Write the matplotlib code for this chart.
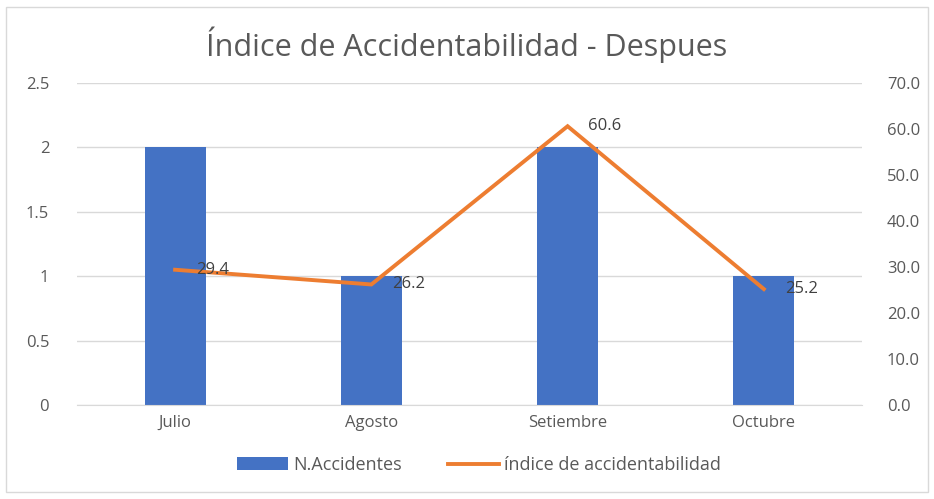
import matplotlib
matplotlib.use('Agg')
import matplotlib.pyplot as plt
from matplotlib.patches import Rectangle

# data
meses = ['Julio', 'Agosto', 'Setiembre', 'Octubre']
n_accidentes = [2, 1, 2, 1]
indice = [29.4, 26.2, 60.6, 25.2]
left_ticks = [0, 0.5, 1, 1.5, 2, 2.5]
right_ticks = [0, 10, 20, 30, 40, 50, 60, 70]

BLUE = '#4472C4'
ORANGE = '#ED7D31'
GREY = '#595959'
plt.rcParams['font.family'] = ['Open Sans', 'DejaVu Sans']

fig = plt.figure(figsize=(9.34, 4.99), dpi=100)
# chart frame like the Excel export
fig.patches.append(Rectangle((0.006, 0.014), 0.988, 0.972, transform=fig.transFigure,
                             fill=False, edgecolor='#d9d9d9', lw=1))

ax = fig.add_axes([0.0824, 0.1884, 0.8405, 0.6453])
x = range(len(meses))
bars = ax.bar(x, n_accidentes, width=0.31, color=BLUE, label='N.Accidentes', zorder=2)
ax.set_ylim(0, 2.5)
ax.set_xlim(-0.5, len(meses) - 0.5)
ax.set_yticks(left_ticks)
ax.set_yticklabels([f'{t:g}' for t in left_ticks])
ax.grid(axis='y', color='#d9d9d9', lw=1, zorder=0)
ax.set_xticks(list(x))
ax.set_xticklabels(meses)
for s in ax.spines.values():
    s.set_visible(False)
ax.spines['bottom'].set_visible(True)
ax.spines['bottom'].set_color('#d9d9d9')
ax.tick_params(length=0, colors=GREY, labelsize=12)
ax.tick_params(axis='y', pad=20)
ax.tick_params(axis='x', pad=7)

ax2 = ax.twinx()
line, = ax2.plot(list(x), indice, color=ORANGE, lw=2.8, label='índice de accidentabilidad',
                 solid_joinstyle='miter', zorder=3)
ax2.set_ylim(0, 70)
ax2.set_yticks(right_ticks)
ax2.set_yticklabels([f'{t:.1f}' for t in right_ticks])
for s in ax2.spines.values():
    s.set_visible(False)
ax2.tick_params(length=0, colors=GREY, labelsize=12, pad=18)
for xi, v in zip(x, indice):
    ax2.annotate(f'{v}', (xi, v), xytext=(15, 0), textcoords='offset points',
                 ha='left', va='center', fontsize=12, color='#404040')

fig.text(0.5, 0.91, 'Índice de Accidentabilidad - Despues', ha='center', va='center',
         fontsize=22, color=GREY)
fig.legend([bars, line], ['N.Accidentes', 'índice de accidentabilidad'], loc='center',
           bbox_to_anchor=(0.513, 0.068), ncol=2, frameon=False, fontsize=13,
           labelcolor=GREY, handlelength=2.8, columnspacing=2.6, handletextpad=0.3)

fig.savefig('out.png', dpi=100)
